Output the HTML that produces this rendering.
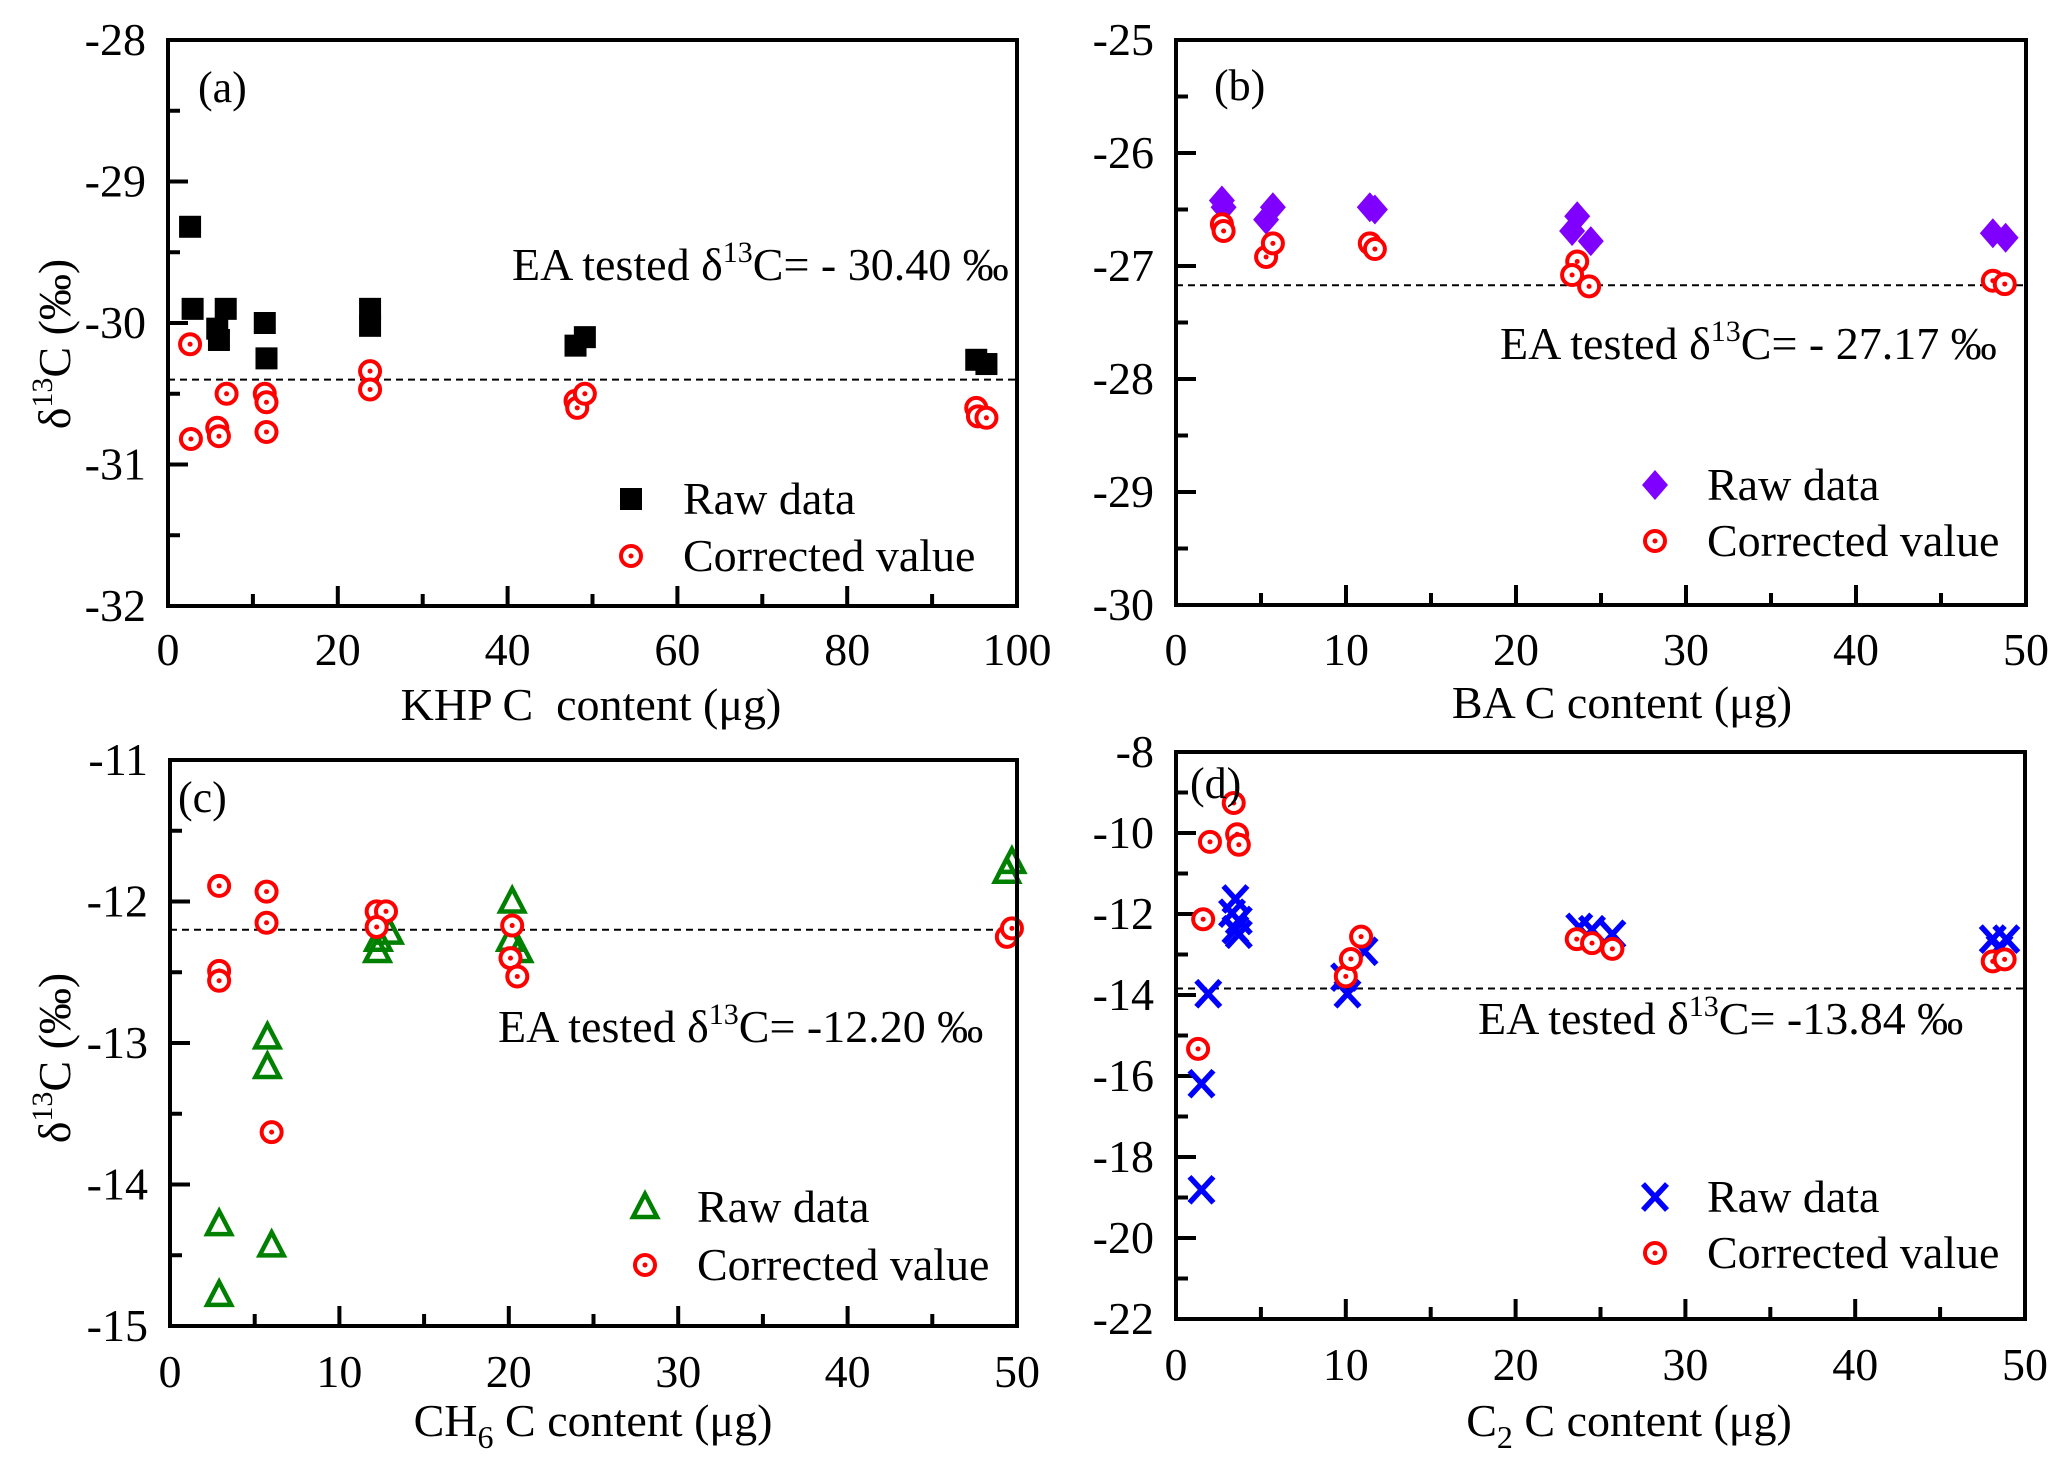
<!DOCTYPE html>
<html><head><meta charset="utf-8"><style>
html,body{margin:0;padding:0;background:#fff;}
svg{display:block;font-family:"Liberation Serif",serif;}
</style></head><body>
<svg id="fig" width="2067" height="1471" viewBox="0 0 2067 1471" xmlns="http://www.w3.org/2000/svg"></svg>
<script>
// ---- Panel (a) KHP ----
const aRawX=[2.6,2.9,6.8,5.8,6.0,11.4,11.6,23.8,23.8,48,49.1,95.2,96.4];
const aRawY=[-29.32,-29.9,-29.9,-30.04,-30.12,-30.0,-30.25,-29.9,-30.02,-30.16,-30.1,-30.26,-30.29];
const aCorX=[2.6,2.7,5.8,6.0,6.9,11.4,11.6,11.6,23.8,23.8,48,48.2,49.1,95.2,95.4,96.4];
const aCorY=[-30.15,-30.82,-30.74,-30.8,-30.5,-30.5,-30.56,-30.77,-30.34,-30.47,-30.55,-30.6,-30.5,-30.6,-30.66,-30.67];
const aRef=[-30.40];
const aXTicks=[0,20,40,60,80,100];
const aYTicks=[-28,-29,-30,-31,-32];
// ---- Panel (b) BA ----
const bRawX=[2.7,2.8,5.3,5.7,11.4,11.7,23.6,23.3,24.4,48.05,48.8];
const bRawY=[-26.42,-26.48,-26.59,-26.48,-26.48,-26.5,-26.56,-26.69,-26.78,-26.71,-26.75];
const bCorX=[2.7,2.8,5.3,5.7,11.4,11.7,23.6,23.3,24.3,48.05,48.75];
const bCorY=[-26.63,-26.69,-26.92,-26.8,-26.8,-26.85,-26.96,-27.08,-27.18,-27.13,-27.16];
const bRef=[-27.17];
const bXTicks=[0,10,20,30,40,50];
const bYTicks=[-25,-26,-27,-28,-29,-30];
// ---- Panel (c) CH6 ----
const cRawX=[2.9,2.9,5.75,5.75,6.0,12.25,12.3,12.95,20.2,20.1,20.6,49.4,49.7];
const cRawY=[-14.28,-14.78,-12.96,-13.17,-14.43,-12.35,-12.27,-12.22,-12.0,-12.27,-12.35,-11.79,-11.72];
const cCorX=[2.9,2.9,2.9,5.7,5.7,6.0,12.2,12.75,12.2,20.2,20.1,20.5,49.4,49.7];
const cCorY=[-11.89,-12.49,-12.56,-11.93,-12.15,-13.63,-12.07,-12.07,-12.18,-12.17,-12.4,-12.53,-12.25,-12.19];
const cRef=[-12.20];
const cXTicks=[0,10,20,30,40,50];
const cYTicks=[-11,-12,-13,-14,-15];
// ---- Panel (d) C2 ----
const dRawX=[1.5,1.5,1.9,3.5,3.3,3.7,3.5,3.7,10.1,9.9,11.1,23.75,24.5,25.7,48.1,48.9,48.5];
const dRawY=[-18.81,-16.19,-13.97,-11.63,-11.98,-12.16,-12.39,-12.5,-13.97,-13.56,-12.92,-12.33,-12.39,-12.5,-12.62,-12.62,-12.86];
const dCorX=[3.4,2.0,3.6,3.7,1.6,1.3,10.0,10.3,10.9,23.6,24.5,25.7,48.1,48.8];
const dCorY=[-9.26,-10.22,-10.03,-10.29,-12.13,-15.33,-13.54,-13.11,-12.56,-12.62,-12.72,-12.86,-13.17,-13.12];
const dRef=[-13.84];
const dXTicks=[0,10,20,30,40,50];
const dYTicks=[-8,-10,-12,-14,-16,-18,-20,-22];

const NS="http://www.w3.org/2000/svg";
const svg=document.getElementById('fig');
const FS=46;
function mk(tag,attrs,parent){const e=document.createElementNS(NS,tag);for(const k in attrs)e.setAttribute(k,attrs[k]);(parent||svg).appendChild(e);return e;}

function marker(g,type,cx,cy){
  let e;
  if(type==='square'){e=mk('rect',{x:cx-11,y:cy-11,width:22,height:22,fill:'#000'},g);}
  else if(type==='diamond'){e=mk('polygon',{points:`${cx},${cy-15} ${cx+13},${cy} ${cx},${cy+15} ${cx-13},${cy}`,fill:'#8000ff'},g);}
  else if(type==='triangle'){e=mk('polygon',{points:`${cx},${cy-13} ${cx+12},${cy+10} ${cx-12},${cy+10}`,fill:'none',stroke:'#008000','stroke-width':4.5},g);}
  else if(type==='cross'){e=mk('path',{d:`M${cx-12},${cy-13}L${cx+12},${cy+13}M${cx+12},${cy-13}L${cx-12},${cy+13}`,stroke:'#0000ff','stroke-width':5.5,fill:'none'},g);}
  else {e=mk('g',{},g);mk('circle',{cx:cx,cy:cy,r:10,fill:'#fff',stroke:'#ff0000','stroke-width':4},e);mk('circle',{cx:cx,cy:cy,r:2.5,fill:'#ff0000'},e);}
  return e;
}

function panel(p){
  const g=mk('g',{});
  
  
  const sx=v=>p.x0+(v-p.xmin)/(p.xmax-p.xmin)*(p.x1-p.x0);
  const sy=v=>p.y0+(p.ymax-v)/(p.ymax-p.ymin)*(p.y1-p.y0);
  const xt=p.xTicks, step=xt[1]-xt[0];
  for(let i=0;i<xt.length;i++){
    const X=sx(xt[i]);
    const t=mk('line',{x1:X,y1:p.y1,x2:X,y2:p.y1-20,stroke:'#000','stroke-width':4},g);
    
    if(i<xt.length-1){const m=sx(xt[i]+step/2);mk('line',{x1:m,y1:p.y1,x2:m,y2:p.y1-12,stroke:'#000','stroke-width':4},g);}
    const l=mk('text',{x:X,y:p.xLabY,'text-anchor':'middle','font-size':FS},g);l.textContent=xt[i];
    
  }
  const yt=p.yTicks, ys=yt[1]-yt[0];
  for(let i=0;i<yt.length;i++){
    const Y=sy(yt[i]);
    const t=mk('line',{x1:p.x0,y1:Y,x2:p.x0+20,y2:Y,stroke:'#000','stroke-width':4},g);
    
    if(i<yt.length-1){const m=sy(yt[i]+ys/2);mk('line',{x1:p.x0,y1:m,x2:p.x0+12,y2:m,stroke:'#000','stroke-width':4},g);}
    const l=mk('text',{x:p.x0-22,y:Y+15,'text-anchor':'end','font-size':FS},g);l.textContent=yt[i];
    
  }
  const ry=sy(p.ref[0]);
  const rl=mk('line',{x1:p.x0,y1:ry,x2:p.x1,y2:ry,stroke:'#000','stroke-width':2,'stroke-dasharray':'7,5'},g);
  
  for(let i=0;i<p.rawX.length;i++){
    const e=marker(g,p.rawType,sx(p.rawX[i]),sy(p.rawY[i]));
    
    
  }
  for(let i=0;i<p.corX.length;i++){
    const e=marker(g,'circle',sx(p.corX[i]),sy(p.corY[i]));
    
    
  }
  const fr=mk('rect',{x:p.x0,y:p.y0,width:p.x1-p.x0,height:p.y1-p.y0,fill:'none',stroke:'#000','stroke-width':4},g);
  
  const pl=mk('text',{x:p.labX,y:p.labY,'font-size':44},g);pl.textContent='('+p.id+')';
  
  const an=mk('text',{x:p.annX,y:p.annY,'font-size':FS},g);
  
  an.innerHTML='EA tested δ<tspan dy="-18" font-size="30">13</tspan><tspan dy="18">C= '+p.annVal+' ‰</tspan>';
  const lg=mk('g',{},g);
  marker(lg,p.rawType,p.legX,p.legY1);
  const t1=mk('text',{x:p.legX+52,y:p.legY1+15,'font-size':FS},lg);t1.textContent='Raw data';
  
  marker(lg,'circle',p.legX,p.legY2);
  const t2=mk('text',{x:p.legX+52,y:p.legY2+15,'font-size':FS},lg);t2.textContent='Corrected value';
  
  const xt2=mk('text',{x:p.xTitleX,y:p.xTitleY,'text-anchor':'middle','font-size':FS},g);
  xt2.innerHTML=p.xTitle;
  
  if(p.yTitle){
    const yt2=mk('text',{x:0,y:0,'text-anchor':'middle','font-size':FS,transform:`translate(${p.yTitleX},${p.yTitleY}) rotate(-90)`},g);
    yt2.innerHTML='δ<tspan dy="-18" font-size="30">13</tspan><tspan dy="18">C (‰)</tspan>';
    
  }
}

panel({id:'a',x0:168,x1:1017,y0:40,y1:606,xmin:0,xmax:100,ymin:-32,ymax:-28,xTicks:aXTicks,yTicks:aYTicks,
  rawX:aRawX,rawY:aRawY,corX:aCorX,corY:aCorY,ref:aRef,rawType:'square',xLabY:665,
  labX:198,labY:102,annX:512,annY:280,annVal:'- 30.40',legX:631,legY1:499,legY2:556,
  xTitle:'KHP C&#160; content (μg)',xTitleX:591,xTitleY:720,yTitle:true,yTitleX:70,yTitleY:344});
panel({id:'b',x0:1176,x1:2026,y0:40,y1:605,xmin:0,xmax:50,ymin:-30,ymax:-25,xTicks:bXTicks,yTicks:bYTicks,
  rawX:bRawX,rawY:bRawY,corX:bCorX,corY:bCorY,ref:bRef,rawType:'diamond',xLabY:665,
  labX:1214,labY:100,annX:1500,annY:359,annVal:'- 27.17',legX:1655,legY1:485,legY2:541,
  xTitle:'BA C content (μg)',xTitleX:1622,xTitleY:718,yTitle:false});
panel({id:'c',x0:170,x1:1017,y0:760,y1:1326,xmin:0,xmax:50,ymin:-15,ymax:-11,xTicks:cXTicks,yTicks:cYTicks,
  rawX:cRawX,rawY:cRawY,corX:cCorX,corY:cCorY,ref:cRef,rawType:'triangle',xLabY:1387,
  labX:178,labY:812,annX:498,annY:1042,annVal:'-12.20',legX:645,legY1:1207,legY2:1265,
  xTitle:'CH<tspan dy="12" font-size="32">6</tspan><tspan dy="-12"> C content (μg)</tspan>',xTitleX:593,xTitleY:1436,yTitle:true,yTitleX:70,yTitleY:1058});
panel({id:'d',x0:1176,x1:2025,y0:752,y1:1319,xmin:0,xmax:50,ymin:-22,ymax:-8,xTicks:dXTicks,yTicks:dYTicks,
  rawX:dRawX,rawY:dRawY,corX:dCorX,corY:dCorY,ref:dRef,rawType:'cross',xLabY:1380,
  labX:1190,labY:798,annX:1478,annY:1034,annVal:'-13.84',legX:1655,legY1:1197,legY2:1253,
  xTitle:'C<tspan dy="12" font-size="32">2</tspan><tspan dy="-12"> C content (μg)</tspan>',xTitleX:1629,xTitleY:1436,yTitle:false});
</script>
</body></html>
